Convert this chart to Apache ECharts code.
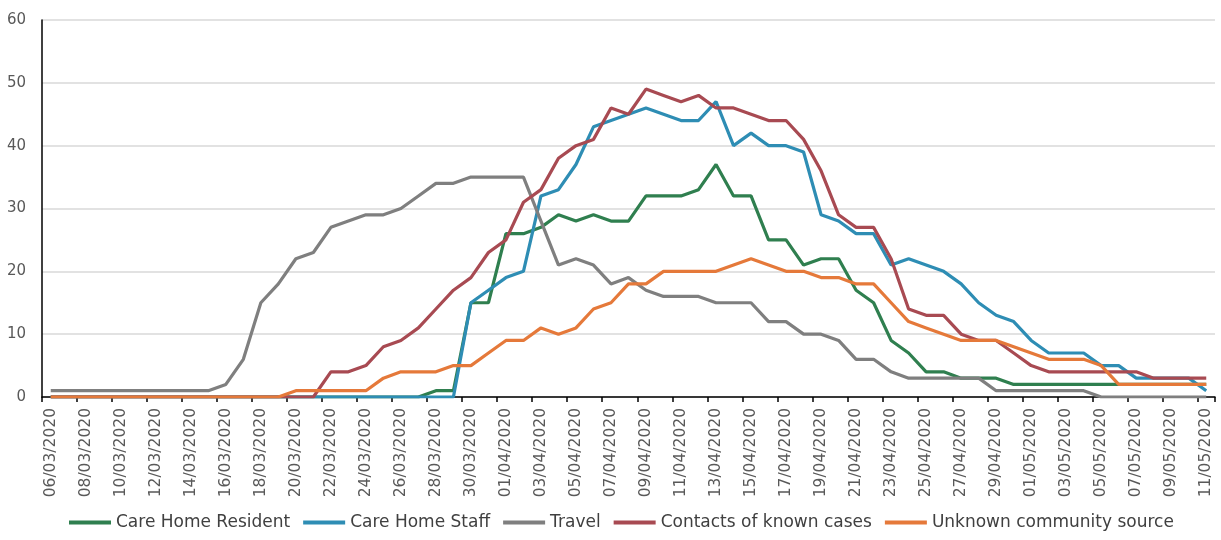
<!DOCTYPE html>
<html>
<head>
<meta charset="utf-8">
<script src="https://cdn.jsdelivr.net/npm/echarts@6/dist/echarts.min.js"></script>
<style>
html,body{margin:0;padding:0;background:#fff;}
#chart{width:1221px;height:540px;}
</style>
</head>
<body>
<div id="chart"></div>
<script>
const categories = [
  "06/03/2020","07/03/2020","08/03/2020","09/03/2020","10/03/2020","11/03/2020","12/03/2020","13/03/2020","14/03/2020","15/03/2020",
  "16/03/2020","17/03/2020","18/03/2020","19/03/2020","20/03/2020","21/03/2020","22/03/2020","23/03/2020","24/03/2020","25/03/2020",
  "26/03/2020","27/03/2020","28/03/2020","29/03/2020","30/03/2020","31/03/2020","01/04/2020","02/04/2020","03/04/2020","04/04/2020",
  "05/04/2020","06/04/2020","07/04/2020","08/04/2020","09/04/2020","10/04/2020","11/04/2020","12/04/2020","13/04/2020","14/04/2020",
  "15/04/2020","16/04/2020","17/04/2020","18/04/2020","19/04/2020","20/04/2020","21/04/2020","22/04/2020","23/04/2020","24/04/2020",
  "25/04/2020","26/04/2020","27/04/2020","28/04/2020","29/04/2020","30/04/2020","01/05/2020","02/05/2020","03/05/2020","04/05/2020",
  "05/05/2020","06/05/2020","07/05/2020","08/05/2020","09/05/2020","10/05/2020","11/05/2020"
];

const careHomeResident = [
  0,0,0,0,0,0,0,0,0,0, 0,0,0,0,0,0,0,0,0,0, 0,0,1,1,15,15,26,26,27,29,
  28,29,28,28,32,32,32,33,37,32, 32,25,25,21,22,22,17,15,9,7, 4,4,3,3,3,2,2,2,2,2,
  2,2,2,2,2,2,2
];
const careHomeStaff = [
  0,0,0,0,0,0,0,0,0,0, 0,0,0,0,0,0,0,0,0,0, 0,0,0,0,15,17,19,20,32,33,
  37,43,44,45,46,45,44,44,47,40, 42,40,40,39,29,28,26,26,21,22, 21,20,18,15,13,12,9,7,7,7,
  5,5,3,3,3,3,1
];
const travel = [
  1,1,1,1,1,1,1,1,1,1, 2,6,15,18,22,23,27,28,29,29, 30,32,34,34,35,35,35,35,28,21,
  22,21,18,19,17,16,16,16,15,15, 15,12,12,10,10,9,6,6,4,3, 3,3,3,3,1,1,1,1,1,1,
  0,0,0,0,0,0,0
];
const contactsKnown = [
  0,0,0,0,0,0,0,0,0,0, 0,0,0,0,0,0,4,4,5,8, 9,11,14,17,19,23,25,31,33,38,
  40,41,46,45,49,48,47,48,46,46, 45,44,44,41,36,29,27,27,22,14, 13,13,10,9,9,7,5,4,4,4,
  4,4,4,3,3,3,3
];
const unknownCommunity = [
  0,0,0,0,0,0,0,0,0,0, 0,0,0,0,1,1,1,1,1,3, 4,4,4,5,5,7,9,9,11,10,
  11,14,15,18,18,20,20,20,20,21, 22,21,20,20,19,19,18,18,15,12, 11,10,9,9,9,8,7,6,6,6,
  5,2,2,2,2,2,2
];

const seriesNames = ["Care Home Resident","Care Home Staff","Travel","Contacts of known cases","Unknown community source"];
const seriesData = [careHomeResident, careHomeStaff, travel, contactsKnown, unknownCommunity];
const seriesColors = ["#2f7f4f","#2e8db4","#7f7f7f","#a84a52","#e5793a"];

const yMin = 0, yMax = 60, yInterval = 10;

const chart = echarts.init(document.getElementById('chart'));
chart.setOption({
  animation: false,
  backgroundColor: '#ffffff',
  grid: { left: 42, right: 6, top: 20, bottom: 143, containLabel: false, outerBoundsMode: 'none' },
  legend: {
    bottom: 4,
    left: 64,
    icon: 'rect',
    itemWidth: 42,
    itemHeight: 4,
    itemGap: 13,
    textStyle: { fontFamily: 'DejaVu Sans', fontSize: 17, color: '#404040' },
    data: seriesNames
  },
  xAxis: {
    type: 'category',
    data: categories,
    boundaryGap: true,
    axisLine: { show: true, lineStyle: { color: '#000000', width: 1.5 } },
    axisTick: { show: true, interval: 1, length: 5, lineStyle: { color: '#000000', width: 1.5 } },
    axisLabel: {
      interval: 1,
      rotate: 90,
      margin: 11,
      fontFamily: 'DejaVu Sans',
      fontSize: 15.5,
      color: '#595959'
    },
    splitLine: { show: false }
  },
  yAxis: {
    type: 'value',
    min: yMin,
    max: yMax,
    interval: yInterval,
    axisLine: { show: true, lineStyle: { color: '#000000', width: 1.5 } },
    axisTick: { show: false },
    axisLabel: {
      margin: 16,
      fontFamily: 'DejaVu Sans',
      fontSize: 15,
      color: '#595959'
    },
    splitLine: { show: true, lineStyle: { color: '#d9d9d9', width: 1.5 } }
  },
  series: seriesNames.map((name, i) => ({
    name: name,
    type: 'line',
    data: seriesData[i],
    showSymbol: false,
    symbol: 'none',
    smooth: false,
    lineStyle: { color: seriesColors[i], width: 3.2 },
    itemStyle: { color: seriesColors[i] },
    emphasis: { disabled: true }
  }))
});
</script>
</body>
</html>
